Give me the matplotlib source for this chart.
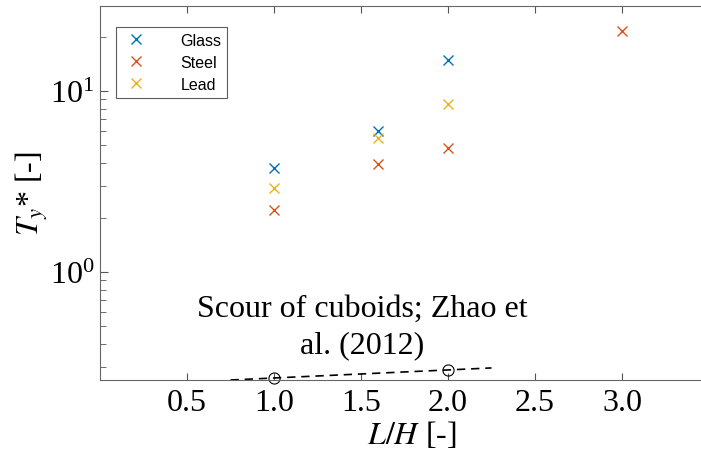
import numpy as np
import matplotlib.pyplot as plt

plt.rcParams['font.family'] = 'serif'
plt.rcParams['font.serif'] = ['Liberation Serif', 'DejaVu Serif']
plt.rcParams['mathtext.fontset'] = 'stix'

# data
glass_x = [1.0, 1.6, 2.0]
glass_y = [3.76, 6.0, 14.8]
steel_x = [1.0, 1.6, 2.0, 3.0]
steel_y = [2.2, 3.95, 4.84, 21.4]
lead_x = [1.0, 1.6, 2.0]
lead_y = [2.91, 5.5, 8.48]

# Zhao et al. (2012) trend
zhao_line_x = [0.75, 2.25]
zhao_line_y = [0.253, 0.295]
zhao_pts_x = [1.0, 2.0]
zhao_pts_y = [0.26, 0.288]

xticks = [0.5, 1.0, 1.5, 2.0, 2.5, 3.0]

fig = plt.figure(figsize=(7.01, 4.60), dpi=100)
ax = fig.add_axes([100/701, 79/460, 696/701, 374/460])

ax.plot(glass_x, glass_y, 'x', color='#0072BD', ms=7, mew=1.0, label='Glass')
ax.plot(steel_x, steel_y, 'x', color='#D95319', ms=7, mew=1.0, label='Steel')
ax.plot(lead_x, lead_y, 'x', color='#EDB120', ms=7, mew=1.0, label='Lead')

ax.plot(zhao_line_x, zhao_line_y, color='k', lw=1.2, ls=(0, (5, 3.5)), clip_on=False)
ax.plot(zhao_pts_x, zhao_pts_y, 'o', mfc='none', mec='k', ms=8, mew=0.8, clip_on=False)

ax.text(1.505, 0.5, 'Scour of cuboids; Zhao et\nal. (2012)', ha='center', va='center',
        fontsize=23, linespacing=1.32)

ax.set_yscale('log')
ax.set_xlim(0, 4.0)
ax.set_ylim(0.253, 29.5)
ax.set_xticks(xticks)
ax.set_xticklabels(['%.1f' % t for t in xticks])
ax.tick_params(axis='both', which='both', direction='in', colors='#555555',
               labelcolor='k', labelsize=23)
ax.tick_params(axis='x', top=True, pad=6)
ax.tick_params(axis='y', which='major', length=6, pad=4)
ax.tick_params(axis='y', which='minor', length=4)
ax.tick_params(axis='x', length=5)

for s in ['left', 'top', 'bottom']:
    ax.spines[s].set_color('#666666')
ax.spines['right'].set_visible(False)

ax.set_xlabel('$L/H$ [-]', fontsize=23)
ax.xaxis.set_label_coords(0.448, -0.105)
ax.set_ylabel('$T_y$* [-]', fontsize=23, labelpad=0)

leg = ax.legend(loc='upper left', bbox_to_anchor=(0.011, 0.965), frameon=True, fancybox=False,
                edgecolor='#333333', handletextpad=1.9, borderpad=0.35, labelspacing=0.45,
                handlelength=1.8, prop={'family': 'Liberation Sans', 'size': 11.5})
leg.get_frame().set_linewidth(0.8)

fig.savefig('out.png', dpi=100)
